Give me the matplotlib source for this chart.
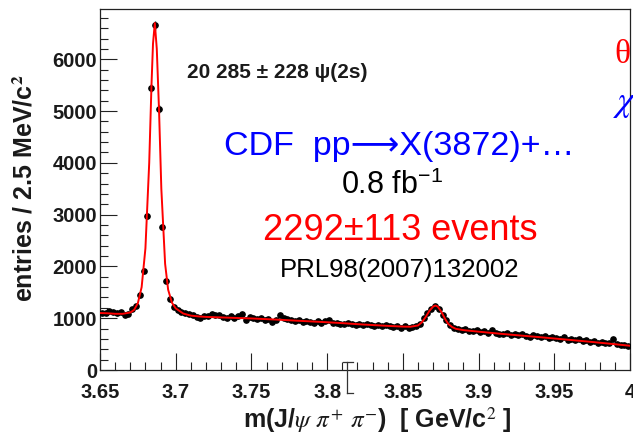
import numpy as np
import matplotlib
matplotlib.use("Agg")
import matplotlib.pyplot as plt
from matplotlib.ticker import MultipleLocator, FixedLocator

plt.rcParams['mathtext.fontset'] = 'stix'

# ---------------- data ----------------
bin_lo = 3.65
bin_width = 0.0025
counts = [
    1100, 1110, 1140, 1120, 1110, 1120, 1060, 1080, 1180, 1230,   # 3.650-3.675
    1440, 1915, 2970, 5450, 6655, 5040, 2765, 1720, 1370, 1210,   # 3.675-3.700
    1150, 1120, 1100, 1075, 1060, 1030, 1010, 1040, 1035, 1080,   # 3.700-3.725
    1060, 1070, 1030, 1010, 1050, 995, 1040, 1075, 960, 1030,     # 3.725-3.750
    1000, 990, 1010, 960, 985, 930, 960, 1060, 1010, 980,         # 3.750-3.775
    970, 950, 960, 935, 945, 930, 905, 940, 910, 945,             # 3.775-3.800
    960, 900, 915, 890, 880, 900, 885, 870, 880, 860,             # 3.800-3.825
    890, 870, 845, 865, 850, 860, 840, 830, 850, 820,             # 3.825-3.850
    840, 815, 830, 845, 880, 1000, 1100, 1170, 1240, 1180,        # 3.850-3.875
    1060, 960, 860, 820, 790, 770, 800, 760, 750, 770,            # 3.875-3.900
    730, 760, 720, 780, 720, 700, 690, 710, 680, 695,             # 3.900-3.925
    670, 690, 660, 640, 680, 655, 630, 660, 620, 640,             # 3.925-3.950
    615, 600, 630, 580, 600, 575, 590, 560, 580, 545,             # 3.950-3.975
    560, 530, 540, 520, 530, 600, 500, 490, 480, 460,             # 3.975-4.000
]

fit_x = [3.650, 3.655, 3.660, 3.665, 3.670, 3.6725, 3.675, 3.6775, 3.680,
         3.6825, 3.684, 3.685, 3.6862, 3.6875, 3.689, 3.6905, 3.693, 3.695,
         3.6975, 3.700, 3.705, 3.710, 3.715, 3.720, 3.730, 3.740, 3.750,
         3.760, 3.770, 3.780, 3.790, 3.800, 3.810, 3.820, 3.830, 3.840,
         3.850, 3.855, 3.860, 3.8625, 3.865, 3.8675, 3.870, 3.8715, 3.873,
         3.8755, 3.878, 3.880, 3.8825, 3.885, 3.890, 3.900, 3.910, 3.920,
         3.930, 3.940, 3.950, 3.960, 3.970, 3.980, 3.990, 4.000]
fit_y = [1100, 1095, 1085, 1085, 1110, 1160, 1290, 1600, 2350,
         4000, 5500, 6300, 6700, 6200, 5000, 3500, 2050, 1550,
         1300, 1190, 1090, 1050, 1035, 1025, 1015, 1005, 995,
         982, 968, 952, 937, 922, 905, 885, 868, 852,
         838, 835, 860, 920, 1020, 1140, 1225, 1245, 1225,
         1120, 980, 890, 830, 795, 770, 740, 712, 685,
         660, 635, 608, 582, 555, 527, 498, 468]

xtick_vals = [3.65, 3.70, 3.75, 3.80, 3.85, 3.90, 3.95, 4.00]
xtick_labels = ["3.65", "3.7", "3.75", "3.8", "3.85", "3.9", "3.95", "4"]
ytick_vals = [0, 1000, 2000, 3000, 4000, 5000, 6000]
ytick_labels = ["0", "1000", "2000", "3000", "4000", "5000", "6000"]

ibeam_x = 3.8132
ibeam_y = (154, -444)

# ---------------- figure ----------------
W, H = 633, 443
fig = plt.figure(figsize=(W / 100, H / 100), dpi=100)
fig.patch.set_facecolor('white')
ax = fig.add_axes([100 / W, (H - 370) / H, 530 / W, 361 / H])

centers = bin_lo + bin_width * (np.arange(len(counts)) + 0.5)
counts_arr = np.array(counts, dtype=float)

ax.errorbar(centers, counts_arr, xerr=bin_width / 2, yerr=np.sqrt(counts_arr),
            fmt='o', color='black', ms=3.8, elinewidth=1.0, capsize=0, zorder=3)
ax.plot(fit_x, fit_y, color='#ff0000', lw=1.4, zorder=4)

ax.set_xlim(3.65, 4.0)
ax.set_ylim(0, 6970)

ax.xaxis.set_major_locator(FixedLocator(xtick_vals))
ax.yaxis.set_major_locator(FixedLocator(ytick_vals))
ax.xaxis.set_minor_locator(MultipleLocator(0.01))
ax.yaxis.set_minor_locator(MultipleLocator(200))

tick_font = dict(family=['Liberation Sans', 'DejaVu Sans'], fontweight='bold', fontsize=14.5, color='#1a1a1a')
ax.set_xticklabels(xtick_labels, **tick_font)
ax.set_yticklabels(ytick_labels, **tick_font)
ax.tick_params(axis='both', which='major', direction='in', length=12, width=0.8, color='#222222')
ax.tick_params(axis='both', which='minor', direction='in', length=6, width=0.8, color='#222222')
ax.tick_params(axis='x', which='major', pad=9.5)
ax.tick_params(axis='y', which='major', pad=2)
for s in ax.spines.values():
    s.set_linewidth(0.9)
    s.set_color('#222222')

# odd I-beam marker crossing the x axis
ax.plot([ibeam_x, ibeam_x], ibeam_y, color='#333333', lw=0.9, clip_on=False, zorder=5)
ax.plot([ibeam_x - 0.0025, ibeam_x + 0.004], [ibeam_y[0]] * 2, color='#333333', lw=0.9, clip_on=False, zorder=5)
ax.plot([ibeam_x, ibeam_x + 0.004], [ibeam_y[1]] * 2, color='#333333', lw=0.9, clip_on=False, zorder=5)

def px(x, y):
    return x / W, 1 - y / H

sans = ['Liberation Sans', 'DejaVu Sans']
fig.text(*px(25, 188), "entries / 2.5 MeV/c$^{\\mathbf{2}}$", rotation=90, ha='center', va='center',
         family=sans, fontweight='bold', fontsize=18, color='#1a1a1a')
fig.text(*px(377, 428), "m(J/$\\psi$ $\\pi^{+}$ $\\pi^{-}$)  [ GeV/c$^{2}$ ]", ha='center', va='baseline',
         family=sans, fontweight='bold', fontsize=18, color='#1a1a1a')

fig.text(*px(187, 73), "20 285 ± 228 ψ(2s)", ha='left', va='center',
         family=sans, fontweight='bold', fontsize=15, color='#1a1a1a')
fig.text(*px(399, 146), "CDF  pp⟶X(3872)+…", ha='center', va='center',
         family=sans, fontsize=24.5, color='#0000ff')
fig.text(*px(392, 186), "0.8 fb$^{\\mathregular{-1}}$", ha='center', va='center',
         family=sans, fontsize=22, color='black')
fig.text(*px(400, 231), "2292±113 events", ha='center', va='center',
         family=sans, fontsize=26, color='#ff0000')
fig.text(*px(400, 270), "PRL98(2007)132002", ha='center', va='center',
         family=sans, fontsize=18.5, color='black')

serif = ['Liberation Serif', 'DejaVu Serif']
fig.text(*px(614, 55), "θ", ha='left', va='center', family=serif, fontsize=24, color='#ff0000')
fig.text(*px(613, 103), "$\\chi$", ha='left', va='center', fontsize=26, color='#0000ff')

fig.savefig("out.png", dpi=100)
